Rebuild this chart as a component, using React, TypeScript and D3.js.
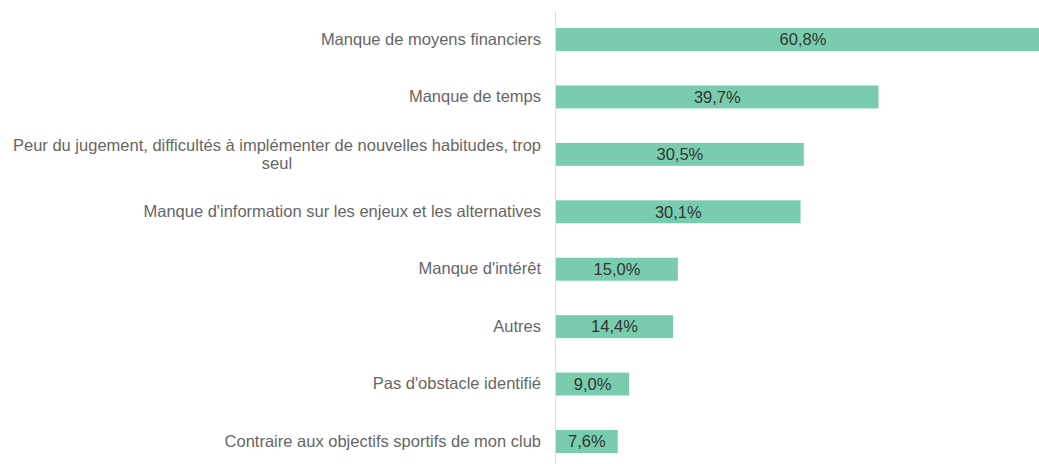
import React, { useRef, useEffect } from "react";
import * as d3 from "d3";

const categories = [
  "Manque de moyens financiers",
  "Manque de temps",
  "Peur du jugement, difficultés à implémenter de nouvelles habitudes, trop seul",
  "Manque d'information sur les enjeux et les alternatives",
  "Manque d'intérêt",
  "Autres",
  "Pas d'obstacle identifié",
  "Contraire aux objectifs sportifs de mon club",
];
const values = [60.8, 39.7, 30.5, 30.1, 15.0, 14.4, 9.0, 7.6];
const valueLabels = ["60,8%", "39,7%", "30,5%", "30,1%", "15,0%", "14,4%", "9,0%", "7,6%"];

const FONT = "'Liberation Sans', Arial, Helvetica, sans-serif";

const App = () => {
  const svgRef = useRef(null);
  const width = 1039;
  const height = 464;

  useEffect(() => {
    document.body.style.margin = "0";
    const svg = d3.select(svgRef.current);
    svg.selectAll("*").remove();

    const axisX = 555;

    const yScale = d3
      .scaleBand()
      .domain(categories)
      .range([10.8, 470.2])
      .paddingInner(0.6)
      .paddingOuter(0.3);

    const xScale = d3.scaleLinear().domain([0, 60.8]).range([556, 1050]);

    const data = categories.map((c, i) => ({ category: c, value: values[i], label: valueLabels[i] }));

    // bars
    svg
      .append("g")
      .selectAll("rect")
      .data(data)
      .enter()
      .append("rect")
      .attr("x", xScale(0))
      .attr("y", (d) => yScale(d.category))
      .attr("width", (d) => xScale(d.value) - xScale(0))
      .attr("height", yScale.bandwidth())
      .attr("fill", "#79cdae");

    // value labels
    svg
      .append("g")
      .selectAll("text")
      .data(data)
      .enter()
      .append("text")
      .attr("x", (d) => (xScale(0) + xScale(d.value)) / 2)
      .attr("y", (d) => yScale(d.category) + yScale.bandwidth() / 2)
      .attr("dy", "0.35em")
      .attr("text-anchor", "middle")
      .attr("font-family", FONT)
      .attr("font-size", 16.5)
      .attr("fill", "#333")
      .text((d) => d.label);

    // category axis
    const yAxis = d3.axisLeft(yScale).tickSize(0).tickPadding(14);
    const axisG = svg
      .append("g")
      .attr("transform", `translate(${axisX}, 0)`)
      .call(yAxis);
    axisG.select(".domain").attr("stroke", "#dcdcdc");
    axisG
      .selectAll("text")
      .attr("font-family", FONT)
      .attr("font-size", 16.5)
      .attr("fill", "#666");

    // wrap long labels
    axisG.selectAll(".tick text").each(function () {
      const text = d3.select(this);
      const words = text.text().split(/\s+/);
      const maxWidth = 535;
      const lines: string[] = [];
      let line: string[] = [];
      const probe = text.text("");
      const ts = probe.append("tspan");
      for (const w of words) {
        line.push(w);
        ts.text(line.join(" "));
        if ((ts.node() as any).getComputedTextLength() > maxWidth && line.length > 1) {
          line.pop();
          lines.push(line.join(" "));
          line = [w];
        }
      }
      lines.push(line.join(" "));
      text.text("");
      if (lines.length === 1) {
        text.text(lines[0]);
        return;
      }
      const x0 = +text.attr("x");
      const first = text.append("tspan").text(lines[0]);
      const w0 = (first.node() as any).getComputedTextLength();
      const cx = x0 - w0 / 2;
      text.text("");
      text.attr("text-anchor", "middle").attr("dy", null);
      const lh = 18.5;
      lines.forEach((l, k) => {
        text
          .append("tspan")
          .attr("x", cx)
          .attr("dy", k === 0 ? `${0.35 * 16.5 - ((lines.length - 1) * lh) / 2}px` : `${lh}px`)
          .text(l);
      });
    });
  }, []);

  return <svg ref={svgRef} width={width} height={height} style={{ display: "block" }}></svg>;
};

export default App;
